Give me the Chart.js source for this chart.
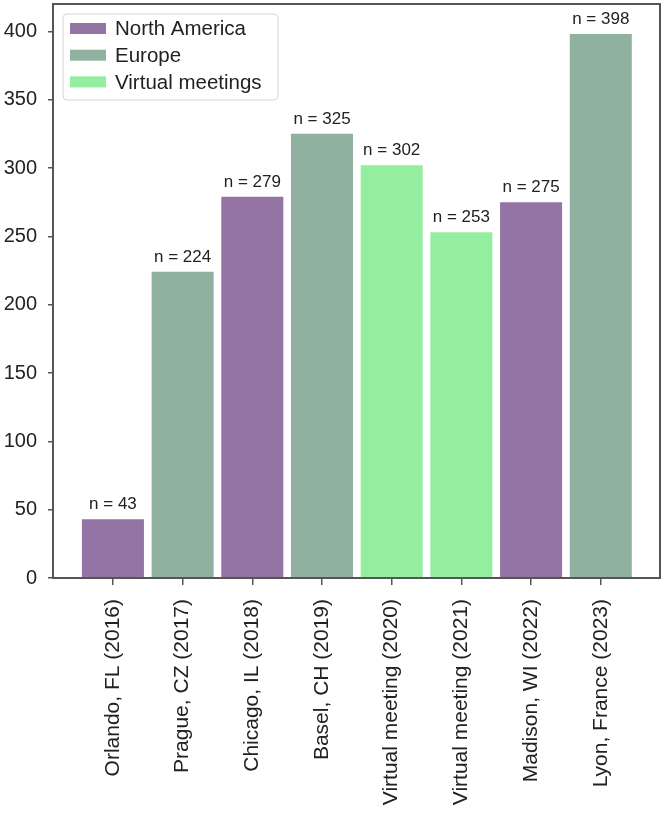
<!DOCTYPE html>
<html>
<head>
<meta charset="utf-8">
<script src="https://cdn.jsdelivr.net/npm/chart.js@4.4.1/dist/chart.umd.min.js"></script>
<style>
  body { margin: 0; background: #fff; }
  #wrap { width: 666px; height: 814px; }
</style>
</head>
<body>
<div id="wrap"><canvas id="meetingChart" width="666" height="814"></canvas></div>
<script>
// meeting locations and attendance
const meetings = ['Orlando, FL (2016)', 'Prague, CZ (2017)', 'Chicago, IL (2018)', 'Basel, CH (2019)',
  'Virtual meeting (2020)', 'Virtual meeting (2021)', 'Madison, WI (2022)', 'Lyon, France (2023)'];
const attendance = [43, 224, 279, 325, 302, 253, 275, 398];
const meetingRegion = [0, 1, 0, 1, 2, 2, 0, 1];
const regions = ['North America', 'Europe', 'Virtual meetings'];
const regionColors = ['#9474a4', '#91b1a0', '#93ee9f'];
const yTicks = [0, 50, 100, 150, 200, 250, 300, 350, 400];

const FONT = '"Liberation Sans", Arial, sans-serif';

// one dataset per region so the colours follow the region list
const datasets = regions.map((name, r) => ({
  label: name,
  data: meetings.map((m, i) => ({ x: i, y: attendance[i], r: meetingRegion[i] }))
    .filter(p => p.r === r),
  backgroundColor: regionColors[r],
  borderWidth: 0,
  grouped: false,
  categoryPercentage: 1,
  barPercentage: 0.89
}));

// frame round the plot
const framePlugin = {
  id: 'frame',
  afterDraw(chart) {
    const { ctx, chartArea: a } = chart;
    ctx.save();
    ctx.strokeStyle = '#555';
    ctx.lineWidth = 2;
    ctx.strokeRect(a.left, a.top, a.right - a.left, a.bottom - a.top);
    ctx.restore();
  }
};

// "n = xx" above each bar
const countLabels = {
  id: 'countLabels',
  afterDatasetsDraw(chart) {
    const ctx = chart.ctx;
    ctx.save();
    ctx.font = '17px ' + FONT;
    ctx.fillStyle = '#222';
    ctx.textAlign = 'center';
    ctx.textBaseline = 'bottom';
    chart.data.datasets.forEach((ds, d) => {
      chart.getDatasetMeta(d).data.forEach((bar, i) => {
        ctx.fillText('n = ' + ds.data[i].y, bar.x, bar.y - 6);
      });
    });
    ctx.restore();
  }
};

// boxed legend in the top left corner of the plot
const boxLegend = {
  id: 'boxLegend',
  afterDraw(chart) {
    const { ctx, chartArea: a } = chart;
    const x0 = a.left + 10, y0 = a.top + 10;
    ctx.save();
    ctx.beginPath();
    ctx.roundRect(x0, y0, 215, 86, 4);
    ctx.fillStyle = 'rgba(255,255,255,0.85)';
    ctx.fill();
    ctx.strokeStyle = '#d4d4d4';
    ctx.lineWidth = 1;
    ctx.stroke();
    ctx.font = '20.5px ' + FONT;
    ctx.textBaseline = 'middle';
    regions.forEach((name, i) => {
      const cy = y0 + 14.5 + i * 26.7;
      ctx.fillStyle = regionColors[i];
      ctx.fillRect(x0 + 7, cy - 5.5, 36, 11);
      ctx.fillStyle = '#222';
      ctx.fillText(name, x0 + 52, cy + 1);
    });
    ctx.restore();
  }
};

new Chart(document.getElementById('meetingChart'), {
  type: 'bar',
  data: { datasets },
  options: {
    responsive: false,
    animation: false,
    layout: { padding: { top: 4, right: 6, left: 0, bottom: 0 } },
    plugins: {
      legend: { display: false },
      tooltip: { enabled: false }
    },
    scales: {
      x: {
        type: 'linear',
        offset: false,
        min: -0.86,
        max: 7.85,
        afterFit: s => { s.height = 236; s.paddingLeft = 0; s.paddingRight = 0; },
        afterBuildTicks: s => { s.ticks = meetings.map((m, i) => ({ value: i })); },
        border: { display: false },
        grid: { offset: false, drawOnChartArea: false, tickLength: 7, color: '#555', lineWidth: 1.5 },
        ticks: {
          autoSkip: false,
          minRotation: 90,
          maxRotation: 90,
          padding: 14,
          color: '#222',
          font: { family: FONT, size: 21 },
          callback: v => meetings[v]
        }
      },
      y: {
        min: 0,
        max: 420,
        afterFit: s => { s.width = 53; s.paddingTop = 0; s.paddingBottom = 0; },
        afterBuildTicks: s => { s.ticks = yTicks.map(v => ({ value: v })); },
        border: { display: false },
        grid: { drawOnChartArea: false, tickLength: 5, color: '#555', lineWidth: 1.5 },
        ticks: {
          padding: 11,
          color: '#222',
          font: { family: FONT, size: 20 }
        }
      }
    }
  },
  plugins: [countLabels, framePlugin, boxLegend]
});
</script>
</body>
</html>
